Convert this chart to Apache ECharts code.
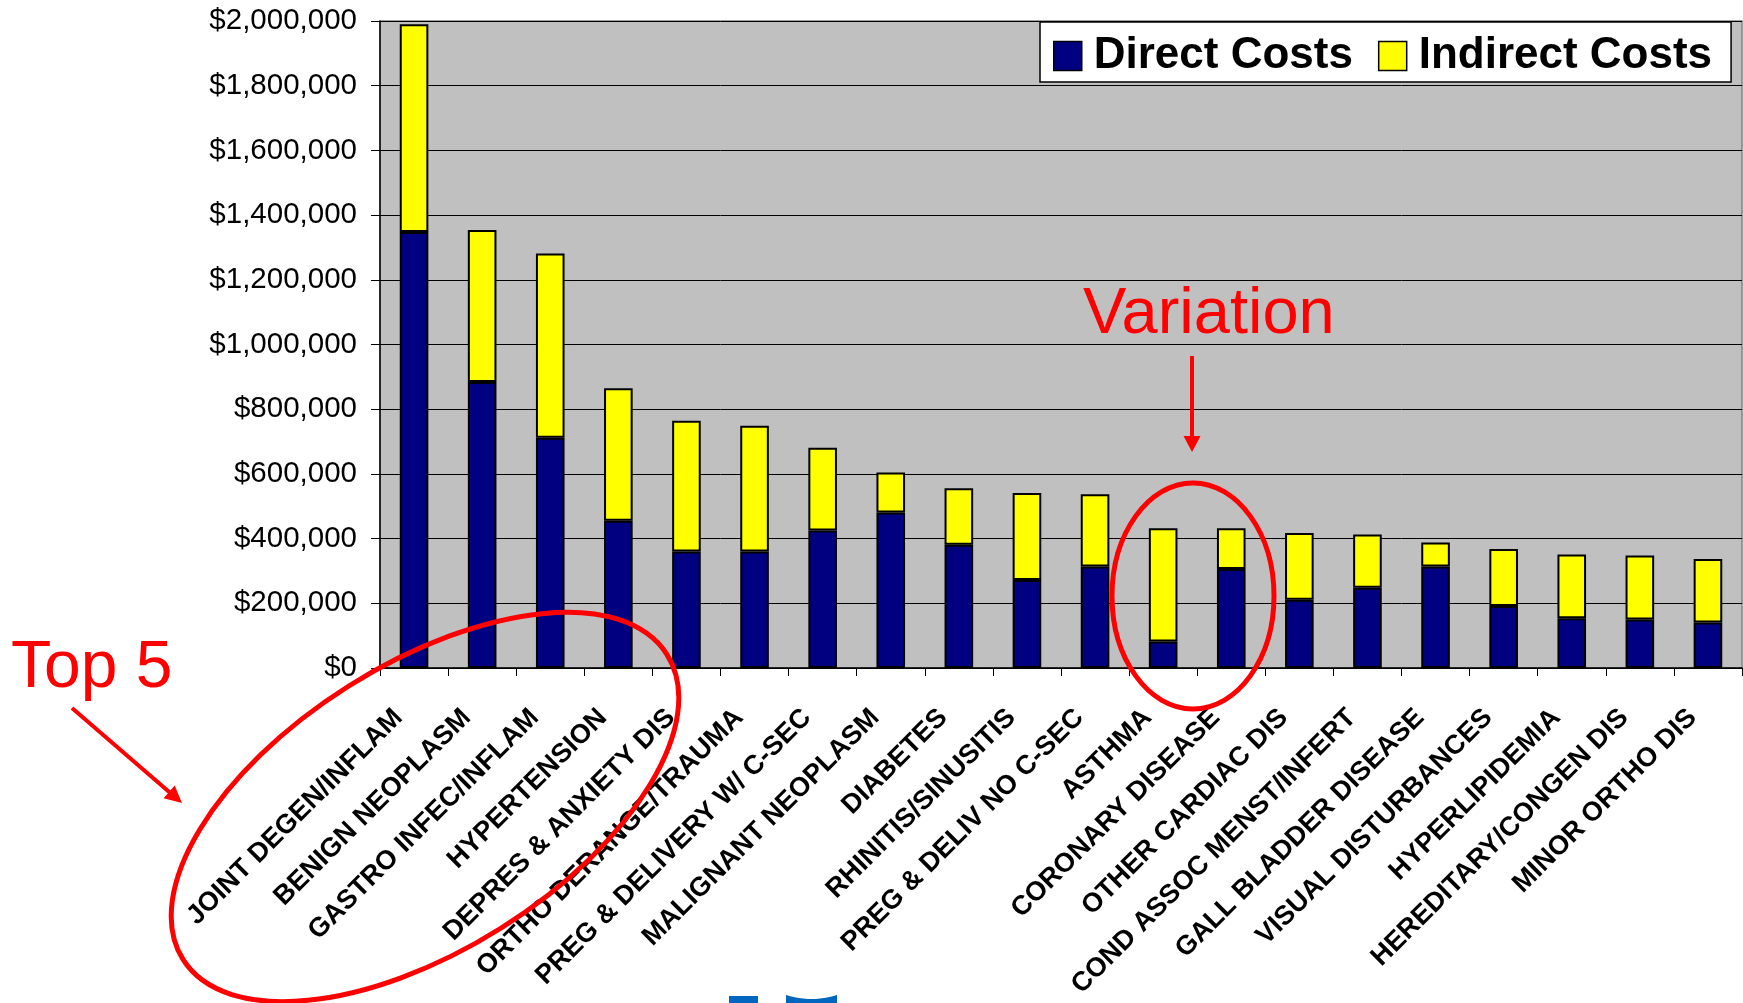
<!DOCTYPE html>
<html>
<head>
<meta charset="utf-8">
<title>Direct and Indirect Costs by Condition</title>
<script src="https://cdn.jsdelivr.net/npm/echarts@6/dist/echarts.min.js"></script>
<style>
  html, body { margin: 0; padding: 0; background: #ffffff; }
  #chart { width: 1743px; height: 1003px; }
</style>
</head>
<body>
<div id="chart"></div>
<script>
// Condition groups, ordered by total cost
const categories = [
  'JOINT DEGEN/INFLAM', 'BENIGN NEOPLASM', 'GASTRO INFEC/INFLAM', 'HYPERTENSION',
  'DEPRES & ANXIETY DIS', 'ORTHO DERANGE/TRAUMA', 'PREG & DELIVERY W/ C-SEC',
  'MALIGNANT NEOPLASM', 'DIABETES', 'RHINITIS/SINUSITIS', 'PREG & DELIV NO C-SEC',
  'ASTHMA', 'CORONARY DISEASE', 'OTHER CARDIAC DIS', 'COND ASSOC MENST/INFERT',
  'GALL BLADDER DISEASE', 'VISUAL DISTURBANCES', 'HYPERLIPIDEMIA',
  'HEREDITARY/CONGEN DIS', 'MINOR ORTHO DIS'
];

// Cost components in dollars
const directCosts = [
  1348000, 884000, 712000, 455000, 360000, 360000, 425000, 481000, 381000, 272000,
  314000, 82000, 306000, 211000, 248000, 314000, 192000, 154000, 150000, 141000
];
const indirectCosts = [
  642000, 470000, 569000, 410000, 404000, 389000, 256000, 123000, 175000, 269000,
  223000, 350000, 126000, 206000, 165000, 74000, 176000, 197000, 198000, 196000
];

const seriesNames = ['Direct Costs', 'Indirect Costs'];

// Value axis ticks
const yAxisMin = 0;
const yAxisMax = 2000000;
const yAxisStep = 200000;

const FONT = '"Liberation Sans", Arial, Helvetica, sans-serif';
const RED = '#FF0000';

function dollars(v) {
  const s = String(Math.round(v));
  return '$' + s.replace(/\B(?=(\d{3})+(?!\d))/g, ',');
}

// Straight red arrow: shaft plus a filled head ending at (x2, y2)
function arrow(x1, y1, x2, y2, headLen, headW, width) {
  const dx = x2 - x1, dy = y2 - y1;
  const len = Math.sqrt(dx * dx + dy * dy);
  const ux = dx / len, uy = dy / len;
  const bx = x2 - ux * headLen, by = y2 - uy * headLen;
  const px = -uy, py = ux;
  return [
    {
      type: 'line', z: 100,
      shape: { x1: x1, y1: y1, x2: bx + ux * 2, y2: by + uy * 2 },
      style: { stroke: RED, lineWidth: width }
    },
    {
      type: 'polygon', z: 100,
      shape: { points: [[x2, y2], [bx + px * headW / 2, by + py * headW / 2], [bx - px * headW / 2, by - py * headW / 2]] },
      style: { fill: RED }
    }
  ];
}

// Shield-shaped badge top: a shallow downward curve between two corners
function badgeTop(xl, xr, yTop, sag, yBottom) {
  const pts = [];
  const n = 12;
  for (let i = 0; i <= n; i++) {
    const t = i / n;
    pts.push([xl + (xr - xl) * t, yTop + sag * 4 * t * (1 - t)]);
  }
  pts.push([xr, yBottom], [xl, yBottom]);
  return pts;
}

const chart = echarts.init(document.getElementById('chart'), null, { renderer: 'canvas' });

const option = {
  backgroundColor: '#ffffff',
  animation: false,
  textStyle: { fontFamily: FONT },
  grid: {
    left: 380, right: 1, top: 21, bottom: 335,
    show: true,
    backgroundColor: '#C0C0C0',
    borderColor: '#808080',
    borderWidth: 1.5
  },
  legend: {
    data: seriesNames,
    left: 1040, top: 22,
    orient: 'horizontal',
    icon: 'rect',
    itemWidth: 28, itemHeight: 29,
    itemGap: 25,
    padding: [11, 19, 3, 13],
    backgroundColor: '#ffffff',
    borderColor: '#000000',
    borderWidth: 1.5,
    itemStyle: { borderColor: '#000000', borderWidth: 1.5 },
    textStyle: {
      fontFamily: FONT, fontSize: 44, fontWeight: 'bold', color: '#000000',
      lineHeight: 46, padding: [0, 0, 0, 7]
    }
  },
  xAxis: {
    type: 'category',
    data: categories,
    boundaryGap: true,
    axisLine: { show: true, lineStyle: { color: '#000000', width: 1.5 } },
    axisTick: { show: true, interval: 0, length: 8, lineStyle: { color: '#000000', width: 1 } },
    axisLabel: {
      interval: 0, rotate: 45, margin: 30,
      padding: [0, 22, 0, 0],
      fontFamily: FONT, fontSize: 27, fontWeight: 'bold', color: '#000000'
    },
    splitLine: { show: false }
  },
  yAxis: {
    type: 'value',
    min: yAxisMin, max: yAxisMax, interval: yAxisStep,
    axisLine: { show: true, lineStyle: { color: '#000000', width: 1.5 } },
    axisTick: { show: true, length: 9, lineStyle: { color: '#000000', width: 1 } },
    axisLabel: {
      margin: 23, formatter: dollars,
      fontFamily: FONT, fontSize: 29.5, color: '#000000'
    },
    splitLine: { show: true, lineStyle: { color: '#000000', width: 1 } }
  },
  series: [
    {
      name: seriesNames[0], type: 'bar', stack: 'total',
      data: directCosts, barWidth: '42%',
      itemStyle: { color: '#000080', borderColor: '#000000', borderWidth: 2 }
    },
    {
      name: seriesNames[1], type: 'bar', stack: 'total',
      data: indirectCosts, barWidth: '42%',
      itemStyle: { color: '#FFFF00', borderColor: '#000000', borderWidth: 2 }
    }
  ],
  graphic: [
    // "Top 5" callout
    {
      type: 'text', z: 100, x: 11, y: 669,
      style: { text: 'Top 5', font: '66px ' + FONT, fill: RED, verticalAlign: 'middle', align: 'left' }
    },
    ...arrow(72, 708, 182, 803, 17, 17, 4),
    {
      type: 'ellipse', z: 100, x: 425, y: 807, rotation: 0.562,
      shape: { cx: 0, cy: 0, rx: 286, ry: 143 },
      style: { fill: 'none', stroke: RED, lineWidth: 5 }
    },
    // "Variation" callout
    {
      type: 'text', z: 100, x: 1083, y: 315,
      style: { text: 'Variation', font: '65px ' + FONT, fill: RED, verticalAlign: 'middle', align: 'left' }
    },
    ...arrow(1192, 356, 1192, 452, 16, 17, 4),
    {
      type: 'ellipse', z: 100, x: 1193, y: 596,
      shape: { cx: 0, cy: 0, rx: 81, ry: 113 },
      style: { fill: 'none', stroke: RED, lineWidth: 5 }
    },
    // logo fragment at the lower edge
    {
      type: 'rect', z: 100,
      shape: { x: 729, y: 996, width: 29, height: 10 },
      style: { fill: '#0066C0' }
    },
    {
      type: 'polygon', z: 100,
      shape: { points: badgeTop(786, 837, 995, 4, 1006) },
      style: { fill: '#0066C0' }
    }
  ]
};

chart.setOption(option);
</script>
</body>
</html>
